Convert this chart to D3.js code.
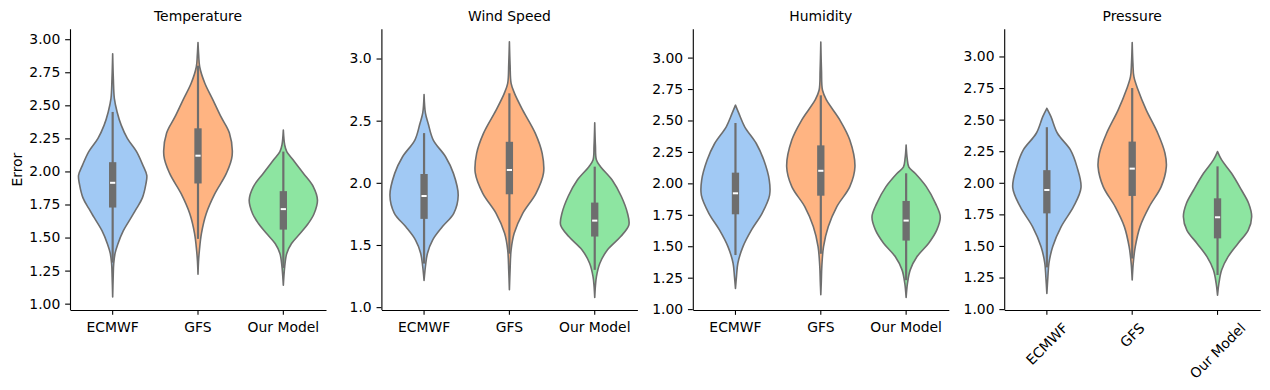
<!DOCTYPE html>
<html>
<head>
<meta charset="utf-8">
<script src="https://cdn.jsdelivr.net/npm/d3@7"></script>
<style>
  html, body { margin: 0; padding: 0; background: #fff; }
  svg { display: block; }
  text { font-family: "DejaVu Sans", sans-serif; }
</style>
</head>
<body>
<svg id="chart" width="1270" height="390"></svg>
<script>
// ---------------- DATA ----------------
const panels = ["Temperature", "Wind Speed", "Humidity", "Pressure"];
const models = ["ECMWF", "GFS", "Our Model"];
const colors = ["#a1c9f4", "#ffb482", "#8de5a1"];

const yDomains = [[0.952, 3.075], [0.977, 3.235], [0.993, 3.225], [0.993, 3.215]];
const tickValues = [
  [1.00, 1.25, 1.50, 1.75, 2.00, 2.25, 2.50, 2.75, 3.00],
  [1.0, 1.5, 2.0, 2.5, 3.0],
  [1.00, 1.25, 1.50, 1.75, 2.00, 2.25, 2.50, 2.75, 3.00],
  [1.00, 1.25, 1.50, 1.75, 2.00, 2.25, 2.50, 2.75, 3.00]
];
const tickFormats = [".2f", ".1f", ".2f", ".2f"];

// density profiles: [error value, relative density (1 = widest)]
const tempECMWF = [[1.05,0],[1.20,0.015],[1.30,0.03],[1.38,0.07],[1.45,0.15],[1.55,0.31],[1.65,0.54],[1.72,0.70],[1.80,0.87],[1.90,0.97],[1.97,1.0],[2.05,0.88],[2.15,0.70],[2.25,0.43],[2.35,0.25],[2.45,0.13],[2.55,0.05],[2.70,0.02],[2.89,0]];
const tempGFS = [[1.222,0],[1.32,0.015],[1.40,0.04],[1.53,0.10],[1.68,0.24],[1.83,0.49],[1.985,0.83],[2.12,1.0],[2.29,0.92],[2.41,0.68],[2.54,0.44],[2.667,0.2],[2.79,0.05],[2.88,0.02],[2.975,0]];
const tempOurs = [[1.139,0],[1.22,0.02],[1.28,0.04],[1.38,0.10],[1.455,0.24],[1.53,0.49],[1.606,0.73],[1.68,0.90],[1.783,1.0],[1.884,0.88],[1.985,0.59],[2.086,0.29],[2.15,0.10],[2.20,0.04],[2.313,0]];

const windECMWF = [[1.214,0],[1.327,0.04],[1.434,0.10],[1.54,0.25],[1.648,0.54],[1.755,0.87],[1.90,1.0],[2.076,0.86],[2.21,0.63],[2.344,0.27],[2.478,0.12],[2.56,0.04],[2.711,0]];
const windGFS = [[1.14,0],[1.30,0.02],[1.46,0.05],[1.594,0.14],[1.755,0.39],[1.916,0.78],[2.08,1.0],[2.237,0.96],[2.398,0.76],[2.585,0.39],[2.72,0.15],[2.80,0.05],[2.95,0.02],[3.134,0]];
const windOurs = [[1.078,0],[1.17,0.02],[1.246,0.05],[1.353,0.15],[1.46,0.37],[1.568,0.76],[1.661,1.0],[1.755,0.96],[1.89,0.78],[2.023,0.51],[2.13,0.17],[2.183,0.05],[2.30,0.02],[2.483,0]];

const humECMWF = [[1.164,0],[1.26,0.03],[1.365,0.07],[1.497,0.22],[1.63,0.47],[1.762,0.78],[1.907,1.0],[2.026,0.99],[2.185,0.83],[2.317,0.61],[2.45,0.27],[2.556,0.10],[2.622,0]];
const humGFS = [[1.114,0],[1.22,0.015],[1.339,0.03],[1.497,0.08],[1.656,0.22],[1.815,0.47],[1.974,0.85],[2.132,1.0],[2.344,0.85],[2.503,0.56],[2.661,0.17],[2.74,0.05],[2.90,0.02],[3.124,0]];
const humOurs = [[1.093,0],[1.206,0.04],[1.312,0.12],[1.418,0.32],[1.524,0.66],[1.63,0.90],[1.735,1.0],[1.841,0.86],[1.974,0.59],[2.079,0.27],[2.13,0.08],[2.20,0.03],[2.304,0]];

const presECMWF = [[1.124,0],[1.256,0.03],[1.362,0.06],[1.494,0.17],[1.653,0.42],[1.811,0.78],[1.962,1.0],[2.128,0.88],[2.26,0.69],[2.392,0.31],[2.524,0.12],[2.59,0]];
const presGFS = [[1.23,0],[1.362,0.03],[1.494,0.09],[1.653,0.23],[1.811,0.5],[1.97,0.85],[2.128,1.0],[2.234,0.96],[2.392,0.75],[2.577,0.41],[2.736,0.17],[2.84,0.05],[2.95,0.02],[3.111,0]];
const presOurs = [[1.111,0],[1.203,0.04],[1.309,0.12],[1.415,0.31],[1.52,0.6],[1.626,0.9],[1.732,1.0],[1.838,0.91],[1.943,0.70],[2.075,0.41],[2.181,0.12],[2.247,0]];

// box stats: [q1, median, q3]
const tempBox = [[1.727, 1.914, 2.07], [1.909, 2.119, 2.326], [1.56, 1.715, 1.851]];
const windBox = [[1.71, 1.894, 2.071], [1.908, 2.103, 2.33], [1.568, 1.696, 1.841]];
const humBox  = [[1.754, 1.921, 2.085], [1.902, 2.10, 2.302], [1.545, 1.704, 1.86]];
const presBox = [[1.758, 1.943, 2.10], [1.896, 2.112, 2.326], [1.56, 1.727, 1.877]];

// whiskers: [low, high]
const tempWhisk = [[1.31, 2.45], [1.49, 2.80], [1.27, 2.15]];
const windWhisk = [[1.35, 2.40], [1.43, 2.72], [1.30, 2.13]];
const humWhisk  = [[1.43, 2.48], [1.44, 2.70], [1.23, 2.08]];
const presWhisk = [[1.33, 2.44], [1.40, 2.75], [1.27, 2.13]];

const profiles = [
  [tempECMWF, tempGFS, tempOurs],
  [windECMWF, windGFS, windOurs],
  [humECMWF, humGFS, humOurs],
  [presECMWF, presGFS, presOurs]
];
const boxes = [tempBox, windBox, humBox, presBox];
const whiskers = [tempWhisk, windWhisk, humWhisk, presWhisk];

// ---------------- LAYOUT ----------------
const svg = d3.select("#chart");
const left0 = 70, step = 311.4, pw = 256;
const plotTop = 29.3, plotBottom = 310;
const fontSize = 13.9;
const tickLen = 4.86, tickPad = 4.86;
const gray = "#6e6e6e";

panels.forEach((title, pi) => {
  const g = svg.append("g").attr("transform", `translate(${left0 + pi * step},0)`);
  const x = d3.scaleBand().domain(models).range([0, pw]).padding(0);
  const y = d3.scaleLinear().domain(yDomains[pi]).range([plotBottom, plotTop]);
  const w = d3.scaleLinear().domain([0, 1]).range([0, x.bandwidth() * 0.4]);

  // violins
  models.forEach((m, mi) => {
    const cx = x(m) + x.bandwidth() / 2;
    const area = d3.area()
      .y(d => y(d[0]))
      .x0(d => cx - w(d[1]))
      .x1(d => cx + w(d[1]))
      .curve(d3.curveCatmullRom.alpha(0.5));
    g.append("path")
      .datum(profiles[pi][mi])
      .attr("d", area)
      .attr("fill", colors[mi])
      .attr("stroke", gray)
      .attr("stroke-width", 1.6)
      .attr("stroke-linejoin", "round");

    const wk = whiskers[pi][mi];
    g.append("line")
      .attr("x1", cx).attr("x2", cx)
      .attr("y1", y(wk[0])).attr("y2", y(wk[1]))
      .attr("stroke", gray).attr("stroke-width", 2.2);

    const bx = boxes[pi][mi];
    const bw = 7.3;
    g.append("rect")
      .attr("x", cx - bw / 2).attr("width", bw)
      .attr("y", y(bx[2])).attr("height", y(bx[0]) - y(bx[2]))
      .attr("fill", gray);
    g.append("line")
      .attr("x1", cx - 2.6).attr("x2", cx + 2.6)
      .attr("y1", y(bx[1])).attr("y2", y(bx[1]))
      .attr("stroke", "#ffffff").attr("stroke-width", 2);
  });

  // y axis
  const ya = g.append("g")
    .call(d3.axisLeft(y).tickValues(tickValues[pi]).tickFormat(d3.format(tickFormats[pi]))
      .tickSize(tickLen).tickPadding(tickPad).tickSizeOuter(0));
  ya.select(".domain").attr("d", `M0.5,${plotTop}V${plotBottom}`).attr("stroke", "#000").attr("stroke-width", 1.1);
  ya.selectAll(".tick line").attr("stroke", "#000").attr("stroke-width", 1.1);
  ya.selectAll(".tick text").attr("font-size", fontSize).attr("font-family", "DejaVu Sans").attr("fill", "#000");

  // x axis
  const xa = g.append("g").attr("transform", `translate(0,${plotBottom})`)
    .call(d3.axisBottom(x).tickSize(tickLen).tickPadding(tickPad).tickSizeOuter(0));
  xa.select(".domain").attr("stroke", "#000").attr("stroke-width", 1.1);
  xa.selectAll(".tick line").attr("stroke", "#000").attr("stroke-width", 1.1);
  const xt = xa.selectAll(".tick text").attr("font-size", fontSize).attr("font-family", "DejaVu Sans").attr("fill", "#000");

  if (pi === 3) {
    const lineH = fontSize * 1.16;
    xt.each(function () {
      const t = d3.select(this);
      const tw = this.getComputedTextLength();
      const half = (tw + lineH) * Math.SQRT1_2 / 2;
      t.attr("y", null).attr("dy", null)
        .attr("text-anchor", "middle")
        .attr("dominant-baseline", "central")
        .attr("transform", `translate(0,${tickLen + tickPad + half}) rotate(-45)`);
    });
  } else {
    xt.attr("dy", null).attr("y", 22);
  }

  // title
  g.append("text")
    .attr("x", pw / 2).attr("y", 21)
    .attr("text-anchor", "middle")
    .attr("font-size", fontSize)
    .attr("fill", "#000")
    .text(title);

  if (pi === 0) {
    g.append("text")
      .attr("transform", `translate(${21.5 - left0},${(plotTop + plotBottom) / 2}) rotate(-90)`)
      .attr("text-anchor", "middle")
      .attr("font-size", fontSize)
      .attr("fill", "#000")
      .text("Error");
  }
});
</script>
</body>
</html>
